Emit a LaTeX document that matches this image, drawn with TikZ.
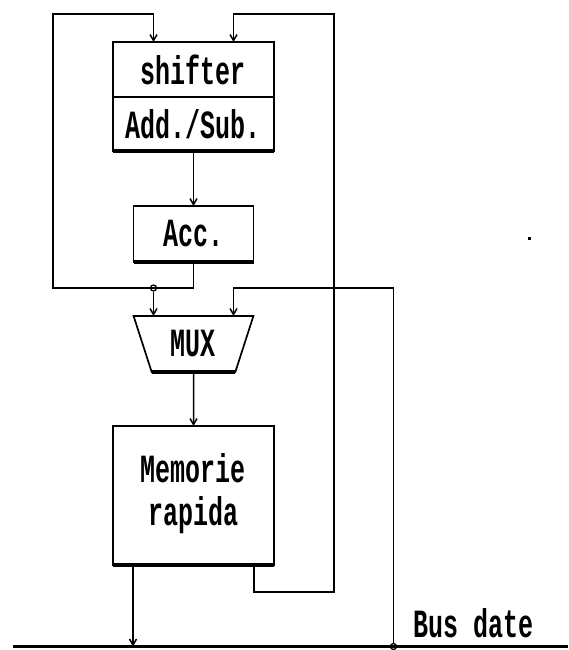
\documentclass[tikz,border=0pt]{standalone}
\usepackage{fontspec}
\usepackage{graphicx}
\newfontfamily\dosfont{Liberation Mono}
\usetikzlibrary{arrows.meta, shapes.geometric}
\newcommand{\tall}[1]{\scalebox{1}[1.6]{#1}}
\tikzset{
    blok/.style={draw, line width=1.7pt, inner sep=0pt, outer sep=0pt, font=\dosfont\bfseries\fontsize{25}{27}\selectfont},
    lbl/.style={inner sep=0pt, font=\dosfont\bfseries\fontsize{25}{27}\selectfont},
    wire/.style={draw, line width=1.5pt},
    arr/.style={wire, -{Straight Barb[length=6pt, width=7pt, line width=1.5pt]}},
    thickbase/.style={line width=3.2pt},
    junc/.style={circle, draw, line width=1.3pt, minimum size=6pt, inner sep=0pt},
}

\begin{document}
\begin{tikzpicture}[x=1pt, y=-1pt]
    \useasboundingbox (0,0) rectangle (568,650);

    % Blocks
    \node[blok, minimum width=161pt, minimum height=55pt] (shifter) at (193.5,69.5) {\tall{shifter}};
    \node[blok, minimum width=161pt, minimum height=54pt, anchor=north] (addsub) at (shifter.south) {\tall{Add./Sub.}};
    \node[blok, minimum width=120pt, minimum height=56pt] (acc) at (193.5,234) {\tall{Acc.}};
    \node[blok, trapezium, trapezium left angle=110, trapezium right angle=110,
          trapezium stretches=true, minimum width=120pt, minimum height=56pt] (mux) at (193.5,344) {\tall{MUX}};
    \node[blok, minimum width=161pt, minimum height=139pt] (mem) at (193.5,495.5)
        {\tall{\begin{tabular}{@{}c@{}}Memorie\\rapida\end{tabular}}};
    \foreach \b in {addsub, acc, mem}
        \draw[thickbase] (\b.south west) -- (\b.south east);
    \draw[thickbase] (mux.bottom left corner) -- (mux.bottom right corner);

    % Bus
    \coordinate (busL) at (13,646.5);
    \coordinate (busR) at (568,646.5);
    \draw[thickbase] (busL) -- (busR);
    \node[lbl] (buslbl) at (474,623.5) {\tall{Bus date}};
    \node[fill, minimum size=3pt, inner sep=0pt] (dot) at (529,238) {};

    % Forward path
    \draw[arr] (addsub.south) -- (acc.north);
    \draw[arr] (mux.south) -- (mem.north);
    \draw[arr] ([xshift=-60.5pt]mem.south) -- ([xshift=-60.5pt]mem.south |- busL);

    % Accumulator feedback
    \coordinate (lb) at (53,288);
    \coordinate (lt) at (53,14);
    \node[junc] (j1) at (153.5,288) {};
    \draw[arr] (acc.south) |- (lb) -- (lt) -| ([xshift=-40pt]shifter.north);
    \draw[arr] (j1) -- (j1 |- mux.north);

    % Memory feedback
    \coordinate (rb) at (334,592);
    \coordinate (rt) at (334,14);
    \draw[arr] ([xshift=60.5pt]mem.south) |- (rb) -- (rt) -| ([xshift=40pt]shifter.north);

    % Bus to MUX
    \node[junc] (j2) at (393.5,646.5) {};
    \coordinate (bt) at (393.5,288);
    \draw[arr] (j2) -- (bt) -| ([xshift=40pt]mux.north);
\end{tikzpicture}
\end{document}
